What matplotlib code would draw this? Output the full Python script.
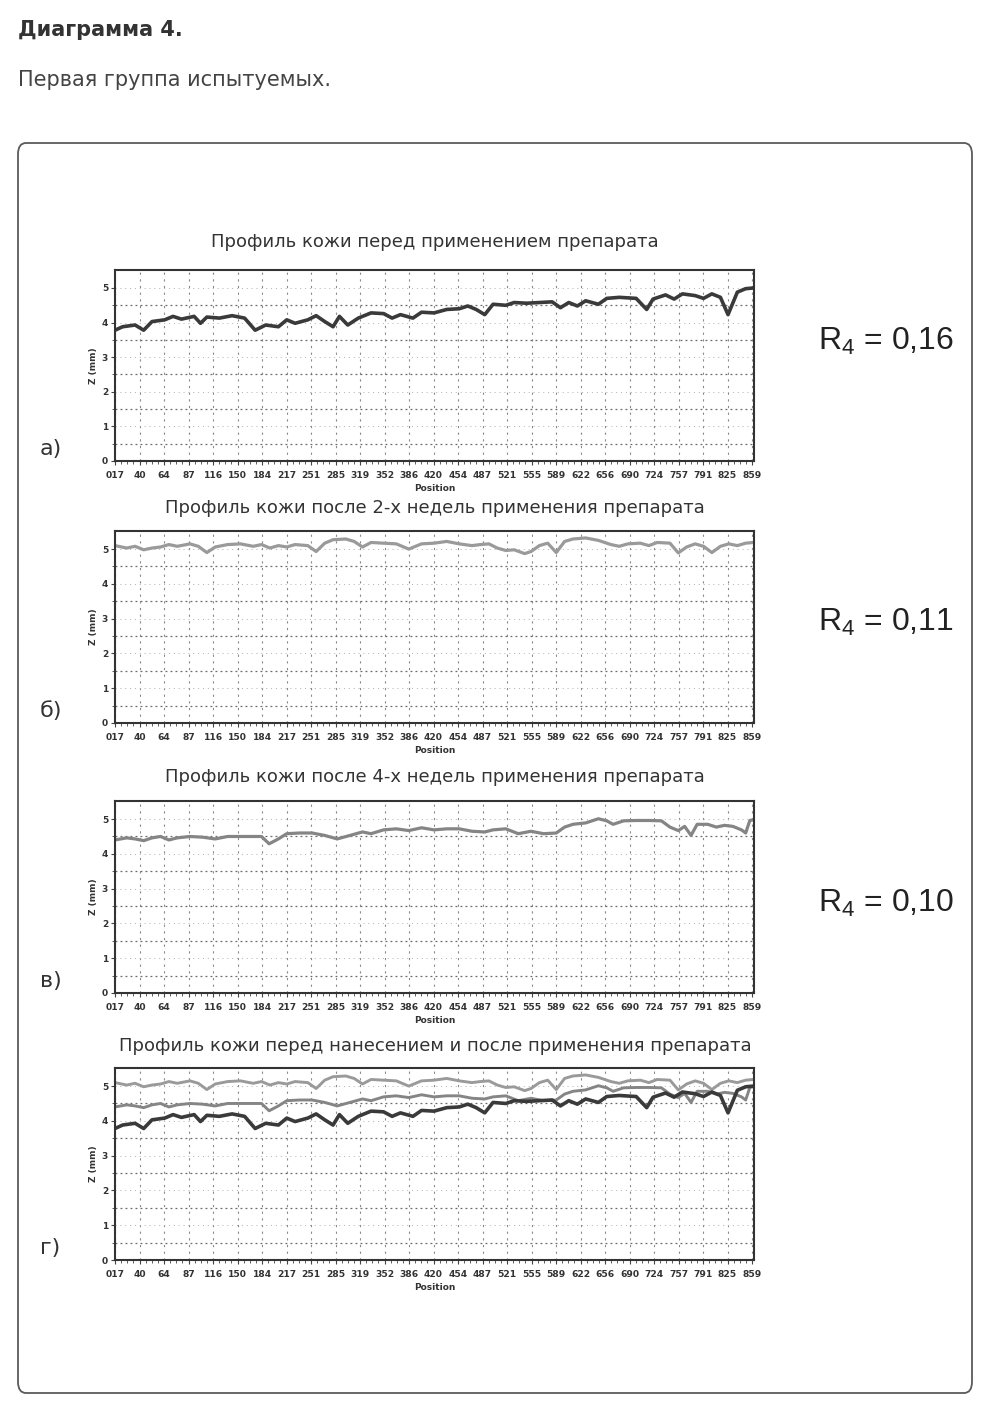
import matplotlib
matplotlib.use("Agg")
import matplotlib.pyplot as plt
from matplotlib.patches import FancyBboxPatch
from matplotlib.ticker import FixedLocator, MultipleLocator

plt.rcParams['mathtext.fontset'] = 'custom'
plt.rcParams['mathtext.rm'] = 'Liberation Sans'
plt.rcParams['mathtext.it'] = 'Liberation Sans'

# ---------------- data ----------------
tick_labels = ["017", "40", "64", "87", "116", "150", "184", "217", "251", "285",
               "319", "352", "386", "420", "454", "487", "521", "555", "589", "622",
               "656", "690", "724", "757", "791", "825", "859"]

# position expressed in tick-index units (0 = first label, 26 = last label)
pos_a = [0, 0.31, 0.82, 1.17, 1.51, 2.03, 2.37, 2.71, 3.23, 3.49, 3.75, 4.26, 4.78, 5.29,
         5.72, 6.15, 6.67, 7.01, 7.35, 7.87, 8.21, 8.56, 8.9, 9.16, 9.5, 9.93, 10.45, 10.96,
         11.31, 11.65, 12.16, 12.51, 13.02, 13.54, 14.05, 14.4, 14.74, 15.09, 15.43, 15.95,
         16.29, 16.8, 17.32, 17.84, 18.18, 18.52, 18.87, 19.21, 19.73, 20.07, 20.58, 21.27,
         21.7, 21.96, 22.47, 22.82, 23.16, 23.68, 24.02, 24.36, 24.71, 25.02, 25.4, 25.74, 26.05]
z_before = [3.78, 3.88, 3.93, 3.78, 4.03, 4.08, 4.18, 4.1, 4.18, 3.98, 4.16, 4.13, 4.2, 4.13,
            3.78, 3.93, 3.88, 4.08, 3.98, 4.08, 4.2, 4.03, 3.88, 4.18, 3.93, 4.13, 4.28, 4.26,
            4.13, 4.23, 4.13, 4.3, 4.28, 4.38, 4.4, 4.48, 4.38, 4.23, 4.53, 4.5,
            4.58, 4.56, 4.58, 4.6, 4.43, 4.58, 4.48, 4.63, 4.53, 4.7, 4.73, 4.7,
            4.38, 4.68, 4.8, 4.68, 4.83, 4.78, 4.7, 4.83, 4.73, 4.23, 4.88, 4.98, 5.0]

pos_b = [0, 0.48, 0.82, 1.17, 1.51, 1.86, 2.2, 2.54, 3.06, 3.4, 3.75, 4.09, 4.6, 5.12, 5.64,
         5.98, 6.32, 6.67, 7.01, 7.35, 7.87, 8.21, 8.56, 8.9, 9.42, 9.76, 10.1, 10.45, 10.96,
         11.48, 11.99, 12.51, 13.02, 13.54, 14.05, 14.57, 14.91, 15.26, 15.6, 15.95, 16.29,
         16.72, 16.98, 17.32, 17.66, 18.01, 18.35, 18.69, 19.21, 19.73, 20.24, 20.58, 20.93,
         21.44, 21.79, 22.13, 22.65, 22.99, 23.33, 23.68, 24.02, 24.36, 24.71, 25.05, 25.4,
         25.74, 26.05]
z_2weeks = [5.1, 5.03, 5.08, 4.98, 5.03, 5.06, 5.13, 5.08, 5.15, 5.08, 4.9, 5.06, 5.13, 5.15, 5.08,
            5.13, 5.03, 5.1, 5.06, 5.13, 5.1, 4.93, 5.17, 5.27, 5.29, 5.22, 5.06, 5.19, 5.17,
            5.15, 5.0, 5.15, 5.17, 5.22, 5.15, 5.1, 5.13, 5.15, 5.03, 4.96, 4.98,
            4.87, 4.93, 5.1, 5.17, 4.9, 5.22, 5.29, 5.32, 5.25, 5.13, 5.08, 5.15,
            5.17, 5.1, 5.19, 5.17, 4.89, 5.06, 5.15, 5.08, 4.9, 5.08, 5.15, 5.1,
            5.17, 5.19]

pos_c = [0, 0.48, 0.82, 1.17, 1.51, 1.86, 2.2, 2.54, 3.06, 3.57, 4.09, 4.6, 5.12, 5.64, 5.98,
         6.29, 6.67, 7.01, 7.53, 8.04, 8.56, 9.07, 9.59, 10.1, 10.45, 10.96, 11.48, 11.99,
         12.51, 13.02, 13.54, 14.05, 14.57, 15.09, 15.43, 15.95, 16.46, 16.98, 17.49, 18.01,
         18.35, 18.69, 19.21, 19.73, 20.07, 20.33, 20.76, 21.27, 21.79, 22.3, 22.65, 22.99,
         23.25, 23.51, 23.76, 24.19, 24.54, 24.88, 25.22, 25.57, 25.74, 25.91, 26.05]
z_4weeks = [4.4, 4.46, 4.43, 4.38, 4.46, 4.5, 4.4, 4.46, 4.5, 4.48, 4.43, 4.5, 4.5, 4.5, 4.5,
            4.29, 4.43, 4.58, 4.6, 4.6, 4.53, 4.43, 4.53, 4.63, 4.58, 4.69, 4.72, 4.67,
            4.75, 4.69, 4.72, 4.72, 4.65, 4.63, 4.69, 4.72, 4.58, 4.65, 4.58, 4.6,
            4.77, 4.85, 4.89, 5.01, 4.95, 4.85, 4.95, 4.96, 4.96, 4.95, 4.77, 4.67,
            4.79, 4.53, 4.85, 4.85, 4.77, 4.82, 4.79, 4.69, 4.6, 4.96, 4.98]

titles = ["Профиль кожи перед применением препарата",
          "Профиль кожи после 2-х недель применения препарата",
          "Профиль кожи после 4-х недель применения препарата",
          "Профиль кожи перед нанесением и после применения препарата"]
panel_letters = ["а)", "б)", "в)", "г)"]
r4_values = ["0,16", "0,11", "0,10"]

# ---------------- figure ----------------
W, H = 996, 1417
fig = plt.figure(figsize=(W / 100, H / 100), dpi=100)
fig.patch.set_facecolor("white")

def fx(px):
    return px / W

def fy(py):
    return 1 - py / H

# outer rounded frame
frame = FancyBboxPatch((fx(18), fy(1393)), fx(972) - fx(18), fy(143) - fy(1393),
                       boxstyle="round,pad=0,rounding_size=0.008",
                       transform=fig.transFigure, fill=False,
                       edgecolor="#5a5a5a", linewidth=1.3)
fig.patches.append(frame)

fig.text(fx(18), fy(30), "Диаграмма 4.", fontsize=15, fontweight="bold",
         color="#333333", va="center", ha="left")
fig.text(fx(18), fy(80), "Первая группа испытуемых.", fontsize=15,
         color="#444444", va="center", ha="left")

DARK = "#3a3a3a"
GRAY_B = "#9a9a9a"
GRAY_C = "#858585"

panel_tops = [270, 531, 801, 1068]
panel_bottoms = [461, 723, 993, 1260]
title_y = [242, 508, 777, 1046]
left_px, right_px = 115, 754

axes = []
for i in range(4):
    top, bot = panel_tops[i], panel_bottoms[i]
    ax = fig.add_axes([fx(left_px), fy(bot), fx(right_px) - fx(left_px), (bot - top) / H])
    axes.append(ax)
    ax.set_xlim(0, 26.08)
    ax.set_ylim(0, 5.52)
    ax.set_xticks(range(len(tick_labels)))
    ax.set_xticklabels(tick_labels, fontsize=6.6, fontweight="bold", color="#333333")
    ax.xaxis.set_minor_locator(MultipleLocator(0.25))
    ax.set_yticks([0, 1, 2, 3, 4, 5])
    ax.set_yticklabels(["0", "1", "2", "3", "4", "5"], fontsize=6.5, fontweight="bold",
                       color="#333333")
    ax.yaxis.set_minor_locator(FixedLocator([0.5, 1.5, 2.5, 3.5, 4.5]))
    ax.tick_params(axis="x", which="major", length=3, width=0.8, pad=4, color="#444444")
    ax.tick_params(axis="y", which="major", length=3, width=0.8, pad=2, color="#444444")
    ax.tick_params(axis="both", which="minor", length=2, width=0.6, color="#444444")
    ax.grid(True, which="major", axis="x", linestyle=(0, (2, 4)), color="#8a8a8a", linewidth=0.8)
    ax.grid(True, which="major", axis="y", linestyle=(0, (1, 4)), color="#b0b0b0", linewidth=0.7)
    ax.grid(True, which="minor", axis="y", linestyle=(0, (1.5, 2.5)), color="#6a6a6a", linewidth=0.9)
    for sp in ax.spines.values():
        sp.set_linewidth(1.5)
        sp.set_color("#333333")
    ax.set_xlabel("Position", fontsize=6.5, fontweight="bold", color="#333333", labelpad=3)
    ax.set_ylabel("Z (mm)", fontsize=6.5, fontweight="bold", color="#333333", labelpad=3)
    fig.text(fx(435), fy(title_y[i]), titles[i], fontsize=13, color="#333333",
             ha="center", va="center")
    fig.text(fx(40), fy(bot - 12), panel_letters[i], fontsize=16, color="#333333",
             ha="left", va="center")

axes[0].plot(pos_a, z_before, color=DARK, linewidth=2.6, solid_joinstyle="round")
axes[1].plot(pos_b, z_2weeks, color=GRAY_B, linewidth=2.3, solid_joinstyle="round")
axes[2].plot(pos_c, z_4weeks, color=GRAY_C, linewidth=2.3, solid_joinstyle="round")
axes[3].plot(pos_c, z_4weeks, color=GRAY_C, linewidth=2.1, solid_joinstyle="round")
axes[3].plot(pos_b, z_2weeks, color=GRAY_B, linewidth=2.1, solid_joinstyle="round")
axes[3].plot(pos_a, z_before, color=DARK, linewidth=2.6, solid_joinstyle="round")

r4_y = [341, 622, 903]
for yv, val in zip(r4_y, r4_values):
    fig.text(fx(818), fy(yv), r"R$_{4}$ = " + val, fontsize=23, family="Liberation Sans",
             color="#222222", ha="left", va="center")

fig.savefig("out.png", dpi=100, facecolor="white")
